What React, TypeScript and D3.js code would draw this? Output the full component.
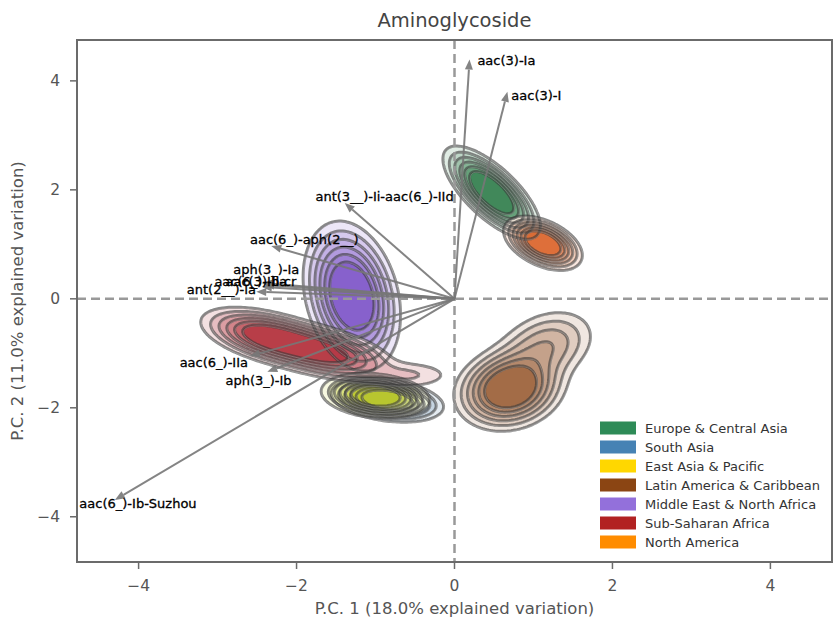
import React, { useMemo } from "react";
import * as d3 from "d3";

const W = 833;
const H = 620;
const margin = { left: 77, right: 1, top: 40, bottom: 58 };

const xDomain: [number, number] = [-4.78, 4.78];
const yDomain: [number, number] = [-4.83, 4.75];
const xTicks = [-4, -2, 0, 2, 4];
const yTicks = [-4, -2, 0, 2, 4];

const titleText = "Aminoglycoside";
const xLabelText = "P.C. 1 (18.0% explained variation)";
const yLabelText = "P.C. 2 (11.0% explained variation)";

// Regions (drawn in this order, also the legend order)
const regionNames = [
  "Europe & Central Asia",
  "South Asia",
  "East Asia & Pacific",
  "Latin America & Caribbean",
  "Middle East & North Africa",
  "Sub-Saharan Africa",
  "North America",
];
const regionColors = ["#2e8b57", "#4682b4", "#ffd700", "#8b4513", "#9370db", "#b22222", "#ff8c00"];
// Deepest shade used inside each region's density
const regionCoreColors = ["#23753f", "#3b6f9c", "#c9d21c", "#94542a", "#7448c4", "#ad1f2b", "#d9581a"];

// Kernel components of each region's score density: [cx, cy, sx, sy, rho, peak]
const europeKernels = [[0.47, 1.95, 0.26, 0.36, -0.72, 1]];
const southAsiaKernels = [[-0.85, -1.86, 0.3, 0.17, -0.3, 1]];
const eastAsiaKernels = [[-1.0, -1.78, 0.29, 0.175, -0.2, 1]];
const latinKernels = [
  [0.7, -1.65, 0.3, 0.33, 0.15, 1],
  [1.15, -0.88, 0.32, 0.35, 0.3, 0.3],
];
const menaKernels = [[-1.3, 0.05, 0.26, 0.58, -0.25, 1]];
const ssaKernels = [
  [-2.35, -0.7, 0.38, 0.24, -0.5, 1],
  [-1.65, -0.98, 0.4, 0.24, -0.5, 0.9],
  [-0.55, -1.4, 0.32, 0.15, 0, 0.15],
];
const northAmericaKernels = [[1.12, 1.02, 0.21, 0.21, -0.45, 1]];
const regionKernels = [
  europeKernels,
  southAsiaKernels,
  eastAsiaKernels,
  latinKernels,
  menaKernels,
  ssaKernels,
  northAmericaKernels,
];

// Density levels (fraction of each region's peak density) and their shades
const densityLevels = [0.06, 0.12, 0.2, 0.3, 0.42, 0.56];
const levelShades = [0.16, 0.34, 0.5, 0.64, 0.8, 1.0];

// Gene loadings (arrow tips) and label anchors
const geneNames = [
  "aac(3)-Ia",
  "aac(3)-I",
  "ant(3__)-Ii-aac(6_)-IId",
  "aac(6_)-aph(2__)",
  "aph(3_)-Ia",
  "aac(6_)-Ib-cr",
  "aac(3)-IIa",
  "ant(2__)-Ia",
  "aac(6_)-IIa",
  "aph(3_)-Ib",
  "aac(6_)-Ib-Suzhou",
];
const loadingX = [0.19, 0.67, -1.39, -2.32, -2.44, -2.44, -2.41, -2.51, -2.59, -2.37, -4.3];
const loadingY = [4.39, 3.8, 1.76, 0.97, 0.29, 0.22, 0.26, 0.13, -1.05, -1.34, -3.69];
const labelX = [0.29, 0.72, -1.76, -2.59, -2.8, -3.04, -2.9, -3.39, -3.48, -2.9, -4.75];
const labelY = [4.37, 3.74, 1.87, 1.08, 0.53, 0.31, 0.31, 0.17, -1.16, -1.5, -3.76];

const FONT = "'DejaVu Sans', sans-serif";

export default function App() {
  const x = d3.scaleLinear().domain(xDomain).range([margin.left, W - margin.right]);
  const y = d3.scaleLinear().domain(yDomain).range([H - margin.bottom, margin.top]);
  const x0 = margin.left;
  const y0 = margin.top;
  const x1 = W - margin.right;
  const y1 = H - margin.bottom;

  const layers = useMemo(() => {
    const step = 2;
    const nx = Math.ceil((x1 - x0) / step) + 1;
    const ny = Math.ceil((y1 - y0) / step) + 1;
    const path = d3.geoPath(
      d3.geoTransform({
        point(gx: number, gy: number) {
          (this as any).stream.point(x0 + (gx - 0.5) * step, y0 + (gy - 0.5) * step);
        },
      })
    );
    return regionKernels.map((kernels, r) => {
      const values = new Float64Array(nx * ny);
      let max = 0;
      for (let j = 0; j < ny; j++) {
        const dy = y.invert(y0 + j * step);
        for (let i = 0; i < nx; i++) {
          const dx = x.invert(x0 + i * step);
          let v = 0;
          for (const [cx, cy, sx, sy, rho, w] of kernels) {
            const u = (dx - cx) / sx;
            const t = (dy - cy) / sy;
            const q = (u * u - 2 * rho * u * t + t * t) / (2 * (1 - rho * rho));
            v += w * Math.exp(-q);
          }
          values[i + j * nx] = v;
          if (v > max) max = v;
        }
      }
      for (let k = 0; k < values.length; k++) values[k] /= max;
      const shapes = d3
        .contours()
        .size([nx, ny])
        .thresholds(densityLevels)(values as any)
        .map((c) => path(c as any) || "");
      const shade = d3.interpolateRgb("#ffffff", regionCoreColors[r]);
      const colors = levelShades.map((s) => shade(s));
      return { shapes, colors };
    });
  }, []);

  const ox = x(0);
  const oy = y(0);
  const headLen = 10;
  const headHalf = 4;

  return (
    <svg
      width={W}
      height={H}
      viewBox={`0 0 ${W} ${H}`}
      style={{ position: "absolute", left: 0, top: 0, background: "#fff" }}
      fontFamily={FONT}
    >
      <defs>
        <clipPath id="plotClip">
          <rect x={x0} y={y0} width={x1 - x0} height={y1 - y0} />
        </clipPath>
      </defs>

      <g clipPath="url(#plotClip)">
        {layers.map((layer, r) => (
          <g key={"f" + r} opacity={0.86}>
            {layer.shapes.map((d, k) => (
              <path key={k} d={d} fill={layer.colors[k]} />
            ))}
          </g>
        ))}
        {layers.map((layer, r) => (
          <g key={"l" + r} fill="none">
            {layer.shapes.map((d, k) => (
              <g key={k}>
                <path d={d} stroke="#3a3a3a" strokeOpacity={0.6} strokeWidth={3} />
                <path d={d} stroke="#ffffff" strokeOpacity={0.25} strokeWidth={0.8} transform="translate(0.8,0.8)" />
              </g>
            ))}
          </g>
        ))}

        <line x1={x0} x2={x1} y1={oy} y2={oy} stroke="#999" strokeWidth={2.5} strokeDasharray="9,5" />
        <line x1={ox} x2={ox} y1={y0} y2={y1} stroke="#999" strokeWidth={2.5} strokeDasharray="9,5" />

        {geneNames.map((g, i) => {
          const tx = x(loadingX[i]);
          const ty = y(loadingY[i]);
          const ang = Math.atan2(ty - oy, tx - ox);
          const c = Math.cos(ang);
          const s = Math.sin(ang);
          const bx = tx - headLen * c;
          const by = ty - headLen * s;
          const head = `M${tx},${ty}L${bx - headHalf * s},${by + headHalf * c}L${bx + headHalf * s},${by - headHalf * c}Z`;
          return (
            <g key={"a" + i}>
              <line x1={ox} y1={oy} x2={bx} y2={by} stroke="#777" strokeWidth={2} strokeOpacity={0.9} />
              <path d={head} fill="#777" fillOpacity={0.9} />
            </g>
          );
        })}
        {geneNames.map((g, i) => (
          <text
            key={"t" + i}
            x={x(labelX[i])}
            y={y(labelY[i])}
            dominantBaseline="central"
            fontSize={13}
            fill="#000"
            stroke="#000"
            strokeWidth={0.3}
          >
            {g}
          </text>
        ))}

        {/* legend */}
        <g transform="translate(600,428)">
          {regionNames.map((name, i) => (
            <g key={name} transform={`translate(0,${i * 19})`}>
              <rect x={0} y={-6.5} width={36} height={13} fill={regionColors[i]} />
              <text x={45} y={0} dominantBaseline="central" fontSize={13} fill="#333">
                {name}
              </text>
            </g>
          ))}
        </g>
      </g>

      {/* frame */}
      <rect x={x0} y={y0} width={x1 - x0} height={y1 - y0} fill="none" stroke="#6b6b6b" strokeWidth={2} />

      {/* axes */}
      {xTicks.map((t) => (
        <g key={"xt" + t}>
          <line x1={x(t)} x2={x(t)} y1={y1} y2={y1 + 7} stroke="#6b6b6b" strokeWidth={1.5} />
          <text x={x(t)} y={y1 + 24} textAnchor="middle" dominantBaseline="central" fontSize={15.5} fill="#555">
            {t < 0 ? "\u2212" + Math.abs(t) : String(t)}
          </text>
        </g>
      ))}
      {yTicks.map((t) => (
        <g key={"yt" + t}>
          <line x1={x0 - 7} x2={x0} y1={y(t)} y2={y(t)} stroke="#6b6b6b" strokeWidth={1.5} />
          <text x={x0 - 17} y={y(t)} textAnchor="end" dominantBaseline="central" fontSize={15.5} fill="#555">
            {t < 0 ? "\u2212" + Math.abs(t) : String(t)}
          </text>
        </g>
      ))}

      <text x={(x0 + x1) / 2} y={608} textAnchor="middle" dominantBaseline="central" fontSize={16.5} fill="#555">
        {xLabelText}
      </text>
      <text
        transform={`translate(17,${(y0 + y1) / 2}) rotate(-90)`}
        textAnchor="middle"
        dominantBaseline="central"
        fontSize={16.5}
        fill="#555"
      >
        {yLabelText}
      </text>
      <text x={(x0 + x1) / 2} y={20} textAnchor="middle" dominantBaseline="central" fontSize={19.5} fill="#444">
        {titleText}
      </text>
    </svg>
  );
}
